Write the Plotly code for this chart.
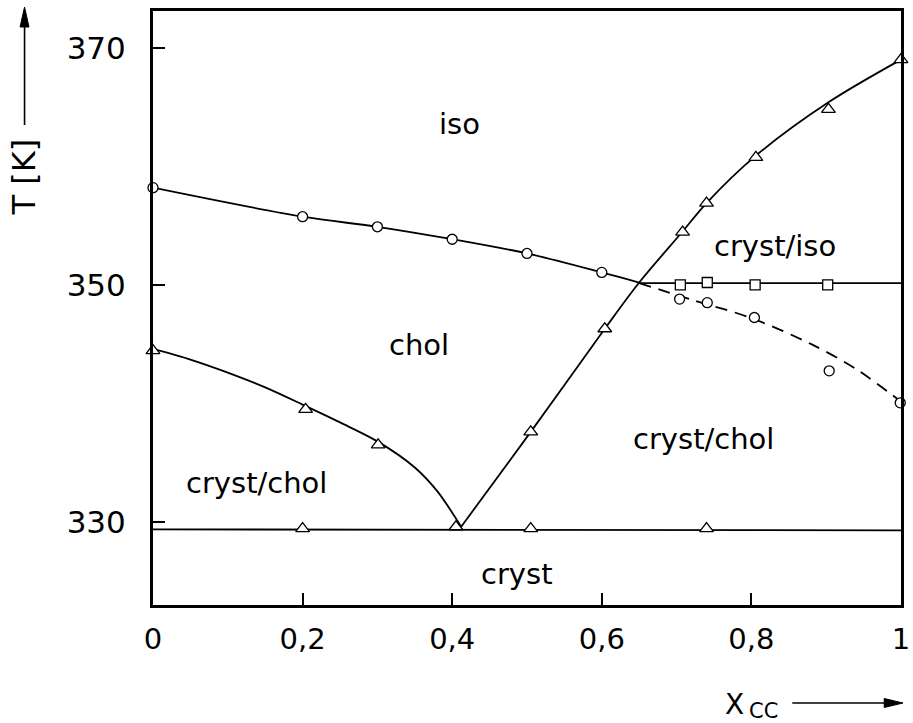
import plotly.graph_objects as go

# ---- data ----
# clearing line chol -> iso (solid, circles)
clear_x = [0.0, 0.2, 0.3, 0.4, 0.5, 0.6]
clear_T = [358.2, 355.75, 354.9, 353.85, 352.65, 351.05]
clear_line_x = [0.0, 0.2, 0.3, 0.4, 0.5, 0.6, 0.65]
clear_line_T = [358.2, 355.75, 354.9, 353.85, 352.65, 351.05, 350.2]

# metastable clearing (dashed, circles)
meta_x = [0.704, 0.741, 0.804, 0.904, 0.999]
meta_T = [348.8, 348.5, 347.25, 342.75, 340.05]
meta_line_x = [0.65, 0.72, 0.8, 0.88, 0.94, 1.0]
meta_line_T = [350.15, 348.75, 347.2, 345.0, 342.9, 340.15]

# cryst/iso boundary (squares)
sq_x = [0.705, 0.741, 0.805, 0.902]
sq_T = [350.0, 350.2, 350.0, 350.0]
sq_line_x = [0.65, 1.0]
sq_line_T = [350.15, 350.15]

# rising liquidus of CC (triangles)
rise_x = [0.505, 0.604, 0.708, 0.74, 0.806, 0.903, 1.0]
rise_T = [337.6, 346.3, 354.45, 356.9, 360.75, 364.8, 369.0]
rise_line_x = [0.412, 0.505, 0.604, 0.65, 0.708, 0.74, 0.806, 0.903, 1.0]
rise_line_T = [329.6, 337.6, 346.3, 350.2, 354.5, 356.9, 360.9, 365.4, 369.0]

# falling liquidus (triangles)
fall_x = [0.0, 0.204, 0.301]
fall_T = [344.45, 339.5, 336.5]
fall_line_x = [0.0, 0.05, 0.1, 0.15, 0.2, 0.25, 0.3, 0.35, 0.38, 0.412]
fall_line_T = [344.6, 343.7, 342.6, 341.35, 339.9, 338.4, 336.8, 334.6, 332.6, 329.6]

# eutectic / crystal line (triangles)
eut_x = [0.2, 0.405, 0.505, 0.74]
eut_T = [329.45, 329.6, 329.45, 329.45]
eut_line_x = [0.0, 1.0]
eut_line_T = [329.38, 329.3]

# region labels
region_text = ["iso", "chol", "cryst/chol", "cryst", "cryst/iso", "cryst/chol"]
region_x = [0.4095, 0.355, 0.138, 0.487, 0.832, 0.736]
region_T = [363.6, 344.9, 333.3, 325.6, 353.3, 337.0]

x_ticks = [0, 0.2, 0.4, 0.6, 0.8, 1]
x_ticklabels = ["0", "0,2", "0,4", "0,6", "0,8", "1"]
y_ticks = [330, 350, 370]

FONT = "DejaVu Sans"
LW = 1.8
W, H = 913, 723
ML, MR, MT, MB = 153, 3, 11, 118
PW, PH = W - ML - MR, H - MT - MB

def px(xp):
    return (xp - ML) / PW

def py(yp):
    return (H - MB - yp) / PH

fig = go.Figure()

def line(x, y, dash="solid"):
    fig.add_trace(go.Scatter(x=x, y=y, mode="lines", line_shape="spline",
                             line=dict(color="black", width=LW, dash=dash, smoothing=0.9),
                             hoverinfo="skip", showlegend=False))

def marks(x, y, symbol, size):
    fig.add_trace(go.Scatter(x=x, y=y, mode="markers",
                             marker=dict(symbol=symbol, size=size, color="white",
                                         line=dict(color="black", width=1.3)),
                             showlegend=False, cliponaxis=False))

line(clear_line_x, clear_line_T)
line(meta_line_x, meta_line_T, dash="12px,8px")
line(sq_line_x, sq_line_T)
line(rise_line_x, rise_line_T)
line(fall_line_x, fall_line_T)
line(eut_line_x, eut_line_T)

marks(clear_x, clear_T, "circle", 10)
marks(meta_x, meta_T, "circle", 10)
marks(sq_x, sq_T, "square", 10)
marks(rise_x, rise_T, "triangle-up", 12)
marks(fall_x, fall_T, "triangle-up", 12)
marks(eut_x, eut_T, "triangle-up", 12)

for t, xx, yy in zip(region_text, region_x, region_T):
    fig.add_annotation(x=xx, y=yy, text=t, showarrow=False,
                       xanchor="center", yanchor="middle",
                       font=dict(family=FONT, size=29, color="black"))

# axis titles
fig.add_annotation(xref="paper", yref="paper", x=px(22), y=py(177), text="T [K]",
                   textangle=-90, showarrow=False, xanchor="center", yanchor="middle",
                   font=dict(family=FONT, size=32, color="black"))
fig.add_annotation(xref="paper", yref="paper", x=px(742), y=py(704),
                   text="X", showarrow=False, xanchor="center", yanchor="middle",
                   font=dict(family=FONT, size=28, color="black"))
fig.add_annotation(xref="paper", yref="paper", x=px(771), y=py(711),
                   text="CC", showarrow=False, xanchor="center", yanchor="middle",
                   font=dict(family=FONT, size=21, color="black"))

# arrows drawn as shapes
shapes = [
    dict(type="line", xref="paper", yref="paper", x0=px(23), x1=px(23),
         y0=py(125), y1=py(22), line=dict(color="black", width=1.6)),
    dict(type="path", xref="paper", yref="paper",
         path="M {} {} L {} {} L {} {} Z".format(px(23), py(7), px(18.5), py(27), px(27.5), py(27)),
         fillcolor="black", line=dict(color="black", width=1)),
    dict(type="line", xref="paper", yref="paper", x0=px(800), x1=px(898),
         y0=py(703), y1=py(703), line=dict(color="black", width=1.6)),
    dict(type="path", xref="paper", yref="paper",
         path="M {} {} L {} {} L {} {} Z".format(px(912), py(703), px(893), py(698.5), px(893), py(707.5)),
         fillcolor="black", line=dict(color="black", width=1)),
]

fig.update_xaxes(range=[0, 1], tickvals=x_ticks, ticktext=x_ticklabels,
                 ticks="inside", ticklen=12, tickwidth=2, tickcolor="black",
                 showline=True, linewidth=3, linecolor="black", mirror=True,
                 showgrid=False, zeroline=False, ticklabelstandoff=6,
                 ticklabeloverflow="allow",
                 tickfont=dict(family=FONT, size=29, color="black"))
fig.update_yaxes(range=[323.0, 373.1], tickvals=y_ticks,
                 ticks="inside", ticklen=12, tickwidth=2, tickcolor="black",
                 showline=True, linewidth=3, linecolor="black", mirror=True,
                 showgrid=False, zeroline=False, ticklabelstandoff=18,
                 tickfont=dict(family=FONT, size=31, color="black"))

fig.update_layout(width=W, height=H, autosize=False,
                  margin=dict(l=ML, r=MR, t=MT, b=MB, pad=0),
                  plot_bgcolor="white", paper_bgcolor="white",
                  font=dict(family=FONT, color="black"), showlegend=False,
                  shapes=shapes)

fig.write_html("out.html")
